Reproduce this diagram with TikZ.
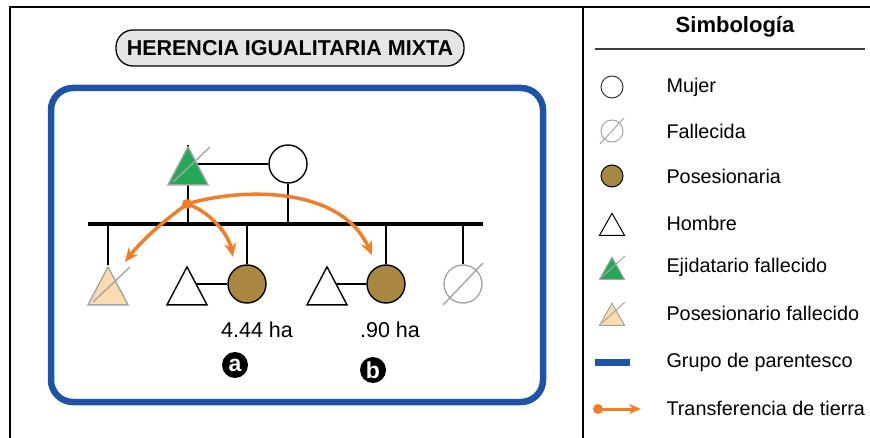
\documentclass[tikz,border=0pt]{standalone}
\usepackage{fontspec}
\setmainfont{Liberation Sans}
\usetikzlibrary{arrows.meta, shapes.geometric}
\pgfdeclarelayer{background}
\pgfsetlayers{background,main}

\definecolor{ejido}{RGB}{35,168,85}
\definecolor{durazno}{RGB}{251,219,176}
\definecolor{tierra}{RGB}{168,135,66}
\definecolor{naranja}{RGB}{240,126,40}
\definecolor{azul}{RGB}{30,84,165}
\definecolor{grisx}{RGB}{165,165,165}

\tikzset{
  hombre/.style={isosceles triangle, isosceles triangle stretches, shape border rotate=90,
    minimum width=40pt, minimum height=38pt, inner sep=0pt, anchor=apex,
    draw=black, line width=1.4pt, fill=white},
  hombrechico/.style={hombre, minimum width=25pt, minimum height=22pt, line width=1pt},
  ejidatario/.style={hombre, draw=grisx, fill=ejido},
  posesionario/.style={hombre, draw=grisx, fill=durazno},
  mujer/.style={circle, minimum size=38pt, inner sep=0pt, draw=black, line width=1.4pt, fill=white},
  mujerchica/.style={mujer, minimum size=22pt, line width=1pt},
  posesionaria/.style={mujer, fill=tierra},
  fallecida/.style={mujer, draw=grisx},
  tachado/.style={draw=grisx, line width=1.4pt},
  linea/.style={line width=1.6pt},
  hermanos/.style={line width=4.5pt},
  transferencia/.style={draw=naranja, line width=3.5pt, -{Stealth[length=14pt, width=12pt]}},
  punto/.style={circle, fill=naranja, minimum size=10pt, inner sep=0pt},
  letra/.style={circle, fill=black, text=white, minimum size=26pt, inner sep=0pt,
    font=\fontsize{23}{23}\selectfont\bfseries},
  etiqueta/.style={font=\fontsize{21.5}{25}\selectfont},
  simbolo/.style={anchor=west, font=\fontsize{19.8}{23}\selectfont},
  titulo/.style={draw=black, line width=1.3pt, fill=black!10, rounded corners=17pt,
    minimum width=348pt, minimum height=36pt, inner sep=0pt,
    font=\fontsize{21.5}{25}\selectfont\bfseries}
}

\begin{document}
\begin{tikzpicture}[x=1pt, y=-1pt]
\useasboundingbox (0,0) rectangle (870,438);

% marco y division
\draw[line width=2.2pt] (9,7) -- (870,7);
\draw[line width=2.2pt] (10,6) -- (10,438);
\draw[line width=2.2pt] (583,6) -- (583,438);

\node[titulo] (titulo) at (290,48) {HERENCIA IGUALITARIA MIXTA};

% grupo de parentesco
\draw[azul, line width=6.5pt, rounded corners=22pt] (51,88) rectangle (543,402);

% padres
\node[ejidatario] (padre) at (188,145) {};
\node[mujer] (madre) at (288,164) {};
\coordinate (sib-izq) at (88,224);
\coordinate (sib-der) at (483,224);

% hijos
\node[posesionario] (hijo) at (108,265) {};
\node[hombre] (yerno1) at (187,265) {};
\node[posesionaria] (hija1) at (247,284) {};
\node[hombre] (yerno2) at (327,265) {};
\node[posesionaria] (hija2) at (386,284) {};
\node[fallecida] (hija3) at (463,284) {};

\begin{pgfonlayer}{background}
  \draw[linea] (madre) -- (madre -| padre.apex);
  \draw[linea] (padre.apex) -- (padre.apex |- sib-izq);
  \draw[linea] (madre) -- (madre |- sib-izq);
  \draw[hermanos] (sib-izq) -- (sib-der);
  \draw[linea] (hijo.apex) -- (hijo.apex |- sib-izq);
  \foreach \h in {hija1, hija2, hija3}
    \draw[linea] (\h) -- (\h |- sib-izq);
  \draw[linea] (hija1) -- (hija1 -| yerno1.apex);
  \draw[linea] (hija2) -- (hija2 -| yerno2.apex);
\end{pgfonlayer}

% difuntos
\draw[tachado] ([shift={(-15,37)}]padre.apex) -- ([shift={(22,2)}]padre.apex);
\draw[tachado] ([shift={(-15,37)}]hijo.apex) -- ([shift={(22,2)}]hijo.apex);
\draw[tachado] ([shift={(-20,21)}]hija3.center) -- ([shift={(20,-21)}]hija3.center);

% superficies
\node[etiqueta] (sup-a) at (257,330) {4.44 ha};
\node[etiqueta] (sup-b) at (390,330) {.90 ha};
\node[letra] (caso-a) at (235,365) {a};
\node[letra] (caso-b) at (373,370) {b};

% transferencias
\node[punto] (origen) at (187,204) {};
\coordinate (fin-hijo) at (125,262);
\coordinate (fin-a) at (233,257);
\coordinate (fin-b) at (372,255);
\draw[transferencia] (origen.center) .. controls (165,220) and (142,240) .. (fin-hijo);
\draw[transferencia] (origen.center) .. controls (207,210) and (228,232) .. (fin-a);
\draw[transferencia] (origen.center) .. controls (240,188) and (340,185) .. (fin-b);

% simbologia
\node[font=\fontsize{22}{26}\selectfont\bfseries] (simb) at (735,27) {Simbología};
\draw[black!75, line width=1.2pt] (595,49) -- (865,49);

\node[mujerchica, draw=black!80] (s1) at (612,87) {};
\node[mujerchica, draw=grisx] (s2) at (612,131) {};
\draw[tachado, line width=1pt] ([shift={(-12,13)}]s2.center) -- ([shift={(12,-13)}]s2.center);
\node[mujerchica, fill=tierra] (s3) at (612,176) {};
\node[hombrechico] (s4) at (612,212) {};
\node[hombrechico, draw=grisx, fill=ejido] (s5) at (612,256) {};
\draw[tachado, line width=1pt] ([shift={(-10,21)}]s5.apex) -- ([shift={(13,0)}]s5.apex);
\node[hombrechico, draw=grisx, fill=durazno] (s6) at (612,302) {};
\draw[tachado, line width=1pt] ([shift={(-10,21)}]s6.apex) -- ([shift={(13,0)}]s6.apex);
\coordinate (s7a) at (595,362);
\coordinate (s7b) at (630,362);
\draw[azul, line width=7pt] (s7a) -- (s7b);
\node[punto] (s8) at (598,409) {};
\coordinate (s8b) at (641,409);
\draw[draw=naranja, line width=3pt, -{Stealth[length=12pt, width=10pt]}] (s8.center) -- (s8b);

\node[simbolo] at (663,87) {Mujer};
\node[simbolo] at (663,131) {Fallecida};
\node[simbolo] at (663,176) {Posesionaria};
\node[simbolo] at (663,223) {Hombre};
\node[simbolo] at (663,267) {Ejidatario fallecido};
\node[simbolo] at (663,313) {Posesionario fallecido};
\node[simbolo] at (663,362) {Grupo de parentesco};
\node[simbolo] at (663,408) {Transferencia de tierra};
\end{tikzpicture}
\end{document}
